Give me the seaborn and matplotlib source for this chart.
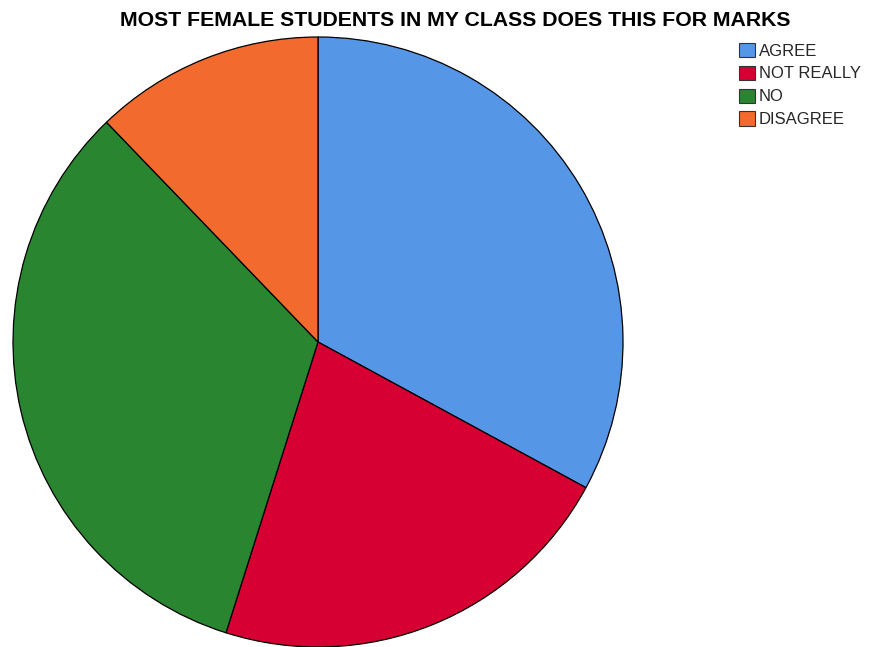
import matplotlib
matplotlib.use("Agg")
import matplotlib.pyplot as plt
from matplotlib.patches import Patch
import seaborn as sns

# Responses and counts
categories = ["AGREE", "NOT REALLY", "NO", "DISAGREE"]
counts = [27, 18, 27, 10]
slice_colors = ["#5596E6", "#D60032", "#2A8530", "#F26A2D"]

sns.set_theme(style="white")
plt.rcParams["font.family"] = ["Liberation Sans", "DejaVu Sans"]
palette = sns.color_palette(slice_colors)

W, H = 869, 647
fig = plt.figure(figsize=(W / 100, H / 100), dpi=100)

# Pie occupies a square area on the left
cx, cy, r = 318, 342, 305
ax = fig.add_axes([(cx - r) / W, (H - cy - r) / H, 2 * r / W, 2 * r / H])
ax.pie(counts, colors=palette, startangle=90, counterclock=False,
       radius=1.0, wedgeprops=dict(edgecolor="black", linewidth=0.9))
ax.set_xlim(-1.0, 1.0)
ax.set_ylim(-1.0, 1.0)
ax.set_aspect("equal")
ax.axis("off")

fig.text(455 / W, 1 - 20 / H, "MOST FEMALE STUDENTS IN MY CLASS DOES THIS FOR MARKS",
         ha="center", va="center", fontsize=15.3, fontweight="bold", color="black")

handles = [Patch(facecolor=c, edgecolor="#333333", linewidth=0.8) for c in palette]
fig.legend(handles, categories, loc="upper left",
           bbox_to_anchor=(727 / W, 1 - 31 / H), frameon=False,
           fontsize=12, handlelength=0.95, handleheight=0.95,
           handletextpad=0.25, labelspacing=0.42, borderpad=0.2)

fig.savefig("out.png", dpi=100, facecolor="white")
